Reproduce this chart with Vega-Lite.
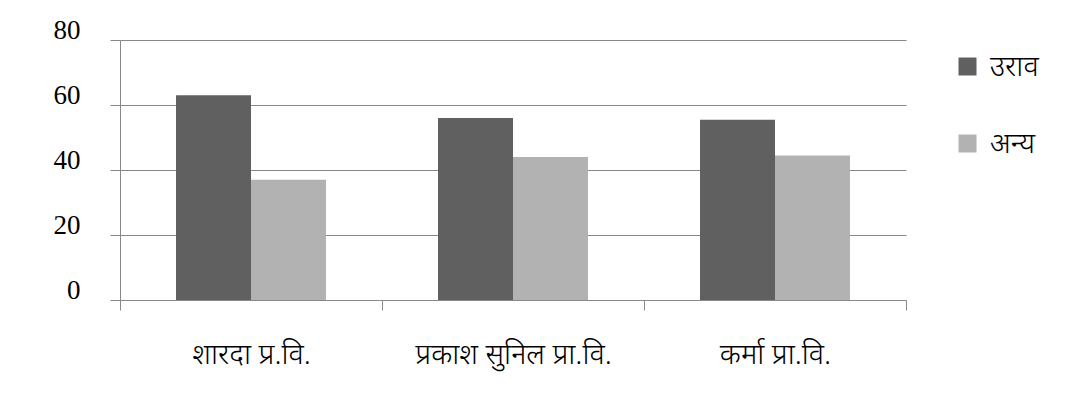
{
  "$schema": "https://vega.github.io/schema/vega-lite/v6.json",
  "width": 786,
  "height": 260,
  "autosize": {"type": "none"},
  "padding": {"left": 120, "top": 40, "right": 166, "bottom": 114},
  "background": "white",
  "data": {
    "values": [
      {"school": "शारदा प्र.वि.", "group": "उराव", "value": 63},
      {"school": "शारदा प्र.वि.", "group": "अन्य", "value": 37},
      {"school": "प्रकाश सुनिल प्रा.वि.", "group": "उराव", "value": 56},
      {"school": "प्रकाश सुनिल प्रा.वि.", "group": "अन्य", "value": 44},
      {"school": "कर्मा प्रा.वि.", "group": "उराव", "value": 55.5},
      {"school": "कर्मा प्रा.वि.", "group": "अन्य", "value": 44.5}
    ]
  },
  "mark": {"type": "bar"},
  "encoding": {
    "x": {
      "field": "school",
      "type": "nominal",
      "sort": null,
      "scale": {"paddingInner": 0, "paddingOuter": 0},
      "axis": {
        "title": null,
        "labelAngle": 0,
        "labelLimit": 0,
        "labelOverlap": false,
        "tickBand": "extent",
        "tickSize": 10,
        "tickColor": "#888888",
        "domainColor": "#888888",
        "labelFont": "Noto Sans",
        "labelFontSize": 29,
        "labelFontWeight": 300,
        "labelColor": "#000000",
        "labelPadding": 30,
        "grid": false
      }
    },
    "xOffset": {
      "field": "group",
      "type": "nominal",
      "sort": ["उराव", "अन्य"],
      "scale": {"paddingInner": 0, "paddingOuter": 0.747}
    },
    "y": {
      "field": "value",
      "type": "quantitative",
      "scale": {"domain": [0, 80], "nice": false},
      "axis": {
        "title": null,
        "values": [0, 20, 40, 60, 80],
        "tickSize": 10,
        "tickColor": "#888888",
        "domainColor": "#888888",
        "gridColor": "#888888",
        "labelFont": "Liberation Serif",
        "labelFontSize": 27,
        "labelColor": "#000000",
        "labelPadding": 30,
        "labelOffset": -10
      }
    },
    "color": {
      "field": "group",
      "type": "nominal",
      "sort": ["उराव", "अन्य"],
      "scale": {"domain": ["उराव", "अन्य"], "range": ["#606060", "#b2b2b2"]},
      "legend": {
        "title": null,
        "orient": "none",
        "legendX": 833,
        "legendY": 12,
        "symbolType": "square",
        "symbolSize": 324,
        "symbolStrokeWidth": 0,
        "labelFont": "Noto Sans",
        "labelFontSize": 29,
        "labelFontWeight": 300,
        "labelColor": "#000000",
        "labelOffset": 8,
        "rowPadding": 47
      }
    }
  },
  "config": {"view": {"stroke": null}}
}
